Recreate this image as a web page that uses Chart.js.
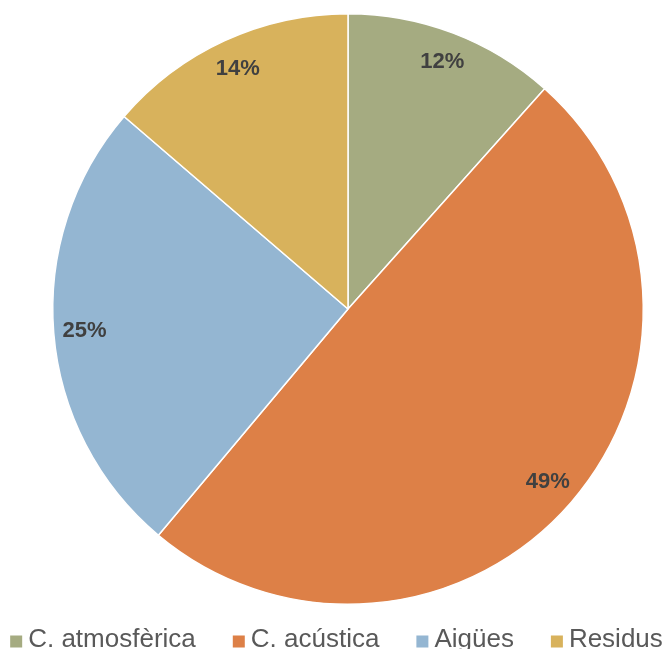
<!DOCTYPE html>
<html><head><meta charset="utf-8">
<script src="https://cdn.jsdelivr.net/npm/chart.js@4/dist/chart.umd.min.js"></script>
<style>html,body{margin:0;padding:0;background:#fff}#wrap{width:667px;height:649px}</style>
</head><body><div id="wrap"><canvas id="c"></canvas></div>
<script>
const categories = ["C. atmosfèrica", "C. acústica", "Aigües", "Residus"];
const values = [11.6, 49.5, 25.2, 13.7];
const colors = ["#A5AB81", "#DD8047", "#94B6D2", "#D8B25C"];
const pctLabels = ["12%", "49%", "25%", "14%"];

const labelPlugin = {
  id: 'pctLabels',
  afterDatasetsDraw(chart) {
    const ctx = chart.ctx;
    const meta = chart.getDatasetMeta(0);
    ctx.save();
    ctx.font = 'bold 22px "Liberation Sans", Arial, sans-serif';
    ctx.fillStyle = '#404040';
    ctx.textAlign = 'center';
    ctx.textBaseline = 'middle';
    meta.data.forEach((arc, i) => {
      const p = arc.getProps(['x', 'y', 'startAngle', 'endAngle', 'outerRadius'], true);
      const a = (p.startAngle + p.endAngle) / 2;
      const r = p.outerRadius * 0.895;
      ctx.fillText(pctLabels[i], p.x + Math.cos(a) * r, p.y + Math.sin(a) * r);
    });
    ctx.restore();
  }
};

const legendPlugin = {
  id: 'bottomLegend',
  afterDraw(chart) {
    const ctx = chart.ctx;
    const labels = chart.data.labels;
    const bg = chart.data.datasets[0].backgroundColor;
    const box = 12, gapBox = 6, gapItem = 37;
    ctx.save();
    ctx.font = '26px "Liberation Sans", Arial, sans-serif';
    ctx.textBaseline = 'alphabetic';
    ctx.textAlign = 'left';
    const widths = labels.map(l => ctx.measureText(l).width);
    const total = widths.reduce((s, w) => s + box + gapBox + w, 0) + gapItem * (labels.length - 1);
    let x = (chart.width - total) / 2 + 3;
    const base = 647;
    labels.forEach((l, i) => {
      ctx.fillStyle = bg[i];
      ctx.fillRect(x, base - box + 0.5, box, box);
      ctx.fillStyle = '#595959';
      ctx.fillText(l, x + box + gapBox, base);
      x += box + gapBox + widths[i] + gapItem;
    });
    ctx.restore();
  }
};

new Chart(document.getElementById('c'), {
  type: 'pie',
  data: {
    labels: categories,
    datasets: [{
      data: values,
      backgroundColor: colors,
      borderColor: '#ffffff',
      borderWidth: 1.5
    }]
  },
  options: {
    responsive: true,
    maintainAspectRatio: false,
    animation: false,
    layout: { padding: { top: 13, left: 29, right: 0, bottom: 44 } },
    plugins: {
      tooltip: { enabled: false },
      legend: { display: false }
    }
  },
  plugins: [labelPlugin, legendPlugin]
});
</script>
</body></html>
